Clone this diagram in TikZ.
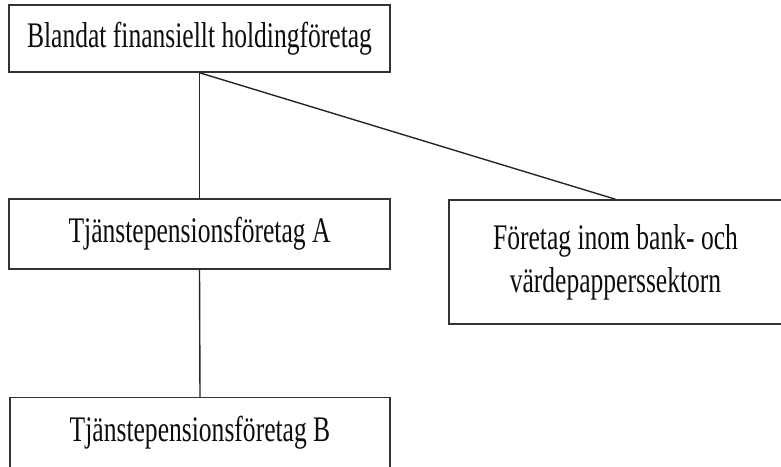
\documentclass[tikz,border=0pt]{standalone}
\usepackage{fontspec}
\setmainfont{Liberation Serif}[FakeStretch=0.71]
\begin{document}
\begin{tikzpicture}[x=1pt,y=-1pt,
  orgbox/.style={draw=black!80, line width=1.5pt, inner sep=0pt, align=center,
    text=black!95, font=\fontsize{36}{43}\selectfont},
  link/.style={draw=black!85, line width=1.4pt}]
\useasboundingbox (0,0) rectangle (781,466);
\node[orgbox, minimum width=381pt, minimum height=67pt] (top) at (199.5,38.5) {Blandat finansiellt holdingföretag};
\node[orgbox, minimum width=381pt, minimum height=70pt] (a) at (199.5,234) {Tjänstepensionsföretag A};
\node[orgbox, minimum width=380pt, minimum height=71pt] (b) at (200,433) {Tjänstepensionsföretag B};
\node[orgbox, minimum width=333pt, minimum height=124pt] (bank) at (615.5,262) {Företag inom bank- och\\värdepapperssektorn};
\draw[link] (top.south) -- (a.north);
\draw[link] (top.south) -- (bank.north);
\draw[link] (a.south) -- (b.north);
\end{tikzpicture}
\end{document}
